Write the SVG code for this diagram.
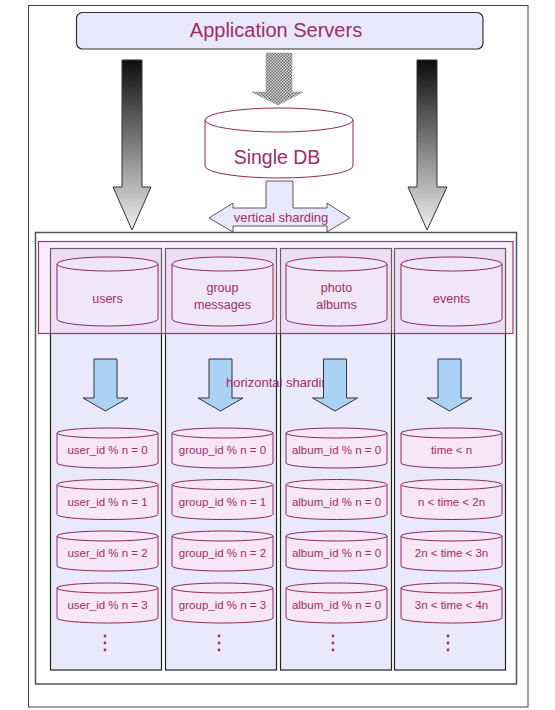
<svg xmlns="http://www.w3.org/2000/svg" width="555" height="710" viewBox="0 0 555 710">
<style>
  .lbl { font-family: "Liberation Sans", Arial, sans-serif; fill: #a02c68; text-anchor: middle; }
  .cyl { fill: #f7e6f7; stroke: #8a2a5c; stroke-width: 1; }
  .tcyl { fill: #efe6f8; stroke: #8a2a5c; stroke-width: 1; }
  .col { fill: #e9e9fb; stroke: #222; stroke-width: 1.2; }
  .blue { fill: #a9d2f4; stroke: #333; stroke-width: 1; }
  .dot { fill: #a02c68; }
</style>
<defs>
  <linearGradient id="gdark" x1="0" y1="0" x2="0" y2="1">
    <stop offset="0" stop-color="#0c0c0c"/>
    <stop offset="1" stop-color="#f0f0f0"/>
  </linearGradient>
  <pattern id="checker" width="3" height="3" patternUnits="userSpaceOnUse">
    <rect width="3" height="3" fill="#d8d8d8"/>
    <rect width="1.5" height="1.5" fill="#6a6a6a"/>
    <rect x="1.5" y="1.5" width="1.5" height="1.5" fill="#6a6a6a"/>
  </pattern>
  <g id="scyl">
    <path class="cyl" d="M0,5 V35 A50.5,5 0 0 0 101,35 V5 Z"/>
    <ellipse class="cyl" cx="50.5" cy="5" rx="50.5" ry="5"/>
  </g>
  <g id="tcyl">
    <path class="tcyl" d="M0,7 V62 A50.5,7 0 0 0 101,62 V7 Z"/>
    <ellipse class="tcyl" cx="50.5" cy="7" rx="50.5" ry="7"/>
  </g>
  <g id="barrow">
    <path class="blue" d="M-11.5,0 H11.5 V39 H22.5 L0,52 L-22.5,39 H-11.5 Z"/>
  </g>
  <g id="dots">
    <circle class="dot" cx="0" cy="0" r="1.4"/>
    <circle class="dot" cx="0" cy="7" r="1.4"/>
    <circle class="dot" cx="0" cy="14" r="1.4"/>
  </g>
</defs>

<rect width="555" height="710" fill="#ffffff"/>
<!-- page frame -->
<rect x="28.5" y="5.5" width="499.5" height="701.5" fill="none" stroke="#444" stroke-width="1"/>

<g id="app-servers">
  <rect x="76.5" y="12.5" width="406.5" height="36.5" rx="6" ry="6" fill="#e8e8fa" stroke="#333" stroke-width="1.2"/>
  <text class="lbl" x="276" y="37" font-size="20">Application  Servers</text>
</g>

<g id="connectors">
  <!-- checkered arrow -->
  <path d="M266,53 H292 V92 H303 L278,105 L252,92 H266 Z" fill="url(#checker)" stroke="#999" stroke-width="0.6"/>
  <!-- left big gradient arrow -->
  <path d="M122,60 H142 V187 H151 L132,230 L113,187 H122 Z" fill="url(#gdark)" stroke="#333" stroke-width="1"/>
  <!-- right big gradient arrow -->
  <path d="M417,60 H437 V187 H447 L427,230 L408,187 H417 Z" fill="url(#gdark)" stroke="#333" stroke-width="1"/>
</g>

<g id="single-db">
  <path d="M205,120 V166 A74,12 0 0 0 353,166 V120 Z" fill="#ffffff" stroke="#8a2a5c" stroke-width="1"/>
  <ellipse cx="279" cy="120" rx="74" ry="12" fill="#ffffff" stroke="#8a2a5c" stroke-width="1"/>
  <text class="lbl" x="277" y="164" font-size="19.5">Single DB</text>
</g>

<g id="vertical-sharding">
  <path d="M266,181 H293 V208 H327 V203 L350,218 L327,232 V226 H233 V232 L209,218 L233,203 V208 H266 Z" fill="#e8e8fa" stroke="#333" stroke-width="0.8"/>
  <text class="lbl" x="281" y="222" font-size="13">vertical sharding</text>
</g>

<g id="shard-area">
  <rect x="35.5" y="232.5" width="481" height="451.5" fill="#ffffff" stroke="#555" stroke-width="1.5"/>
  <rect class="col" x="50.5" y="248.5" width="111" height="421.5"/>
  <rect class="col" x="165.5" y="248.5" width="111" height="421.5"/>
  <rect class="col" x="280.5" y="248.5" width="111" height="421.5"/>
  <rect class="col" x="394.5" y="248.5" width="111" height="421.5"/>
  <rect x="38.5" y="241.5" width="474.5" height="92" fill="#f5c8ec" fill-opacity="0.35" stroke="#9a3a72" stroke-width="1.2"/>
</g>

<g id="users">
  <use href="#tcyl" x="57" y="257"/>
  <text class="lbl" x="107.5" y="303" font-size="12.5">users</text>
</g>
<g id="group-messages">
  <use href="#tcyl" x="172" y="257"/>
  <text class="lbl" x="222.5" y="292" font-size="12.5">group</text>
  <text class="lbl" x="222.5" y="309" font-size="12.5">messages</text>
</g>
<g id="photo-albums">
  <use href="#tcyl" x="286" y="257"/>
  <text class="lbl" x="336.5" y="292" font-size="12.5">photo</text>
  <text class="lbl" x="336.5" y="309" font-size="12.5">albums</text>
</g>
<g id="events">
  <use href="#tcyl" x="401" y="257"/>
  <text class="lbl" x="451.5" y="303" font-size="12.5">events</text>
</g>

<g id="horizontal-arrows-left">
  <use href="#barrow" x="105.5" y="359"/>
  <use href="#barrow" x="220.5" y="359"/>
</g>
<text id="horizontal-sharding" class="lbl" x="281" y="387" font-size="13">horizontal sharding</text>
<g id="horizontal-arrows-right">
  <use href="#barrow" x="335" y="359"/>
  <use href="#barrow" x="449.5" y="359"/>
</g>

<g id="users-shards">
  <use href="#scyl" x="57" y="428"/>
  <text class="lbl" x="107.5" y="454" font-size="11.5">user_id % n = 0</text>
  <use href="#scyl" x="57" y="479.5"/>
  <text class="lbl" x="107.5" y="505.5" font-size="11.5">user_id % n = 1</text>
  <use href="#scyl" x="57" y="531"/>
  <text class="lbl" x="107.5" y="557" font-size="11.5">user_id % n = 2</text>
  <use href="#scyl" x="57" y="583"/>
  <text class="lbl" x="107.5" y="609" font-size="11.5">user_id % n = 3</text>
  <use href="#dots" x="105" y="636"/>
</g>
<g id="group-shards">
  <use href="#scyl" x="172" y="428"/>
  <text class="lbl" x="222.5" y="454" font-size="11.5">group_id % n = 0</text>
  <use href="#scyl" x="172" y="479.5"/>
  <text class="lbl" x="222.5" y="505.5" font-size="11.5">group_id % n = 1</text>
  <use href="#scyl" x="172" y="531"/>
  <text class="lbl" x="222.5" y="557" font-size="11.5">group_id % n = 2</text>
  <use href="#scyl" x="172" y="583"/>
  <text class="lbl" x="222.5" y="609" font-size="11.5">group_id % n = 3</text>
  <use href="#dots" x="219" y="636"/>
</g>
<g id="album-shards">
  <use href="#scyl" x="286" y="428"/>
  <text class="lbl" x="336.5" y="454" font-size="11.5">album_id % n = 0</text>
  <use href="#scyl" x="286" y="479.5"/>
  <text class="lbl" x="336.5" y="505.5" font-size="11.5">album_id % n = 0</text>
  <use href="#scyl" x="286" y="531"/>
  <text class="lbl" x="336.5" y="557" font-size="11.5">album_id % n = 0</text>
  <use href="#scyl" x="286" y="583"/>
  <text class="lbl" x="336.5" y="609" font-size="11.5">album_id % n = 0</text>
  <use href="#dots" x="333" y="636"/>
</g>
<g id="event-shards">
  <use href="#scyl" x="401" y="428"/>
  <text class="lbl" x="451.5" y="454" font-size="11.5">time &lt; n</text>
  <use href="#scyl" x="401" y="479.5"/>
  <text class="lbl" x="451.5" y="505.5" font-size="11.5">n &lt; time &lt; 2n</text>
  <use href="#scyl" x="401" y="531"/>
  <text class="lbl" x="451.5" y="557" font-size="11.5">2n &lt; time &lt; 3n</text>
  <use href="#scyl" x="401" y="583"/>
  <text class="lbl" x="451.5" y="609" font-size="11.5">3n &lt; time &lt; 4n</text>
  <use href="#dots" x="448" y="636"/>
</g>
</svg>
